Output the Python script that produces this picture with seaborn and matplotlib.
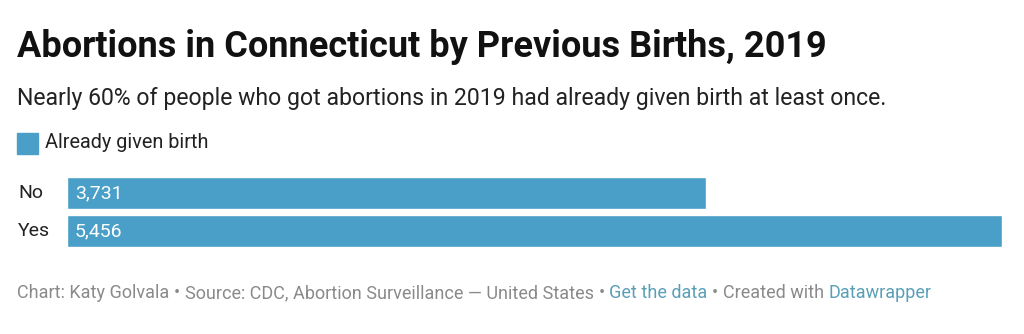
import matplotlib
matplotlib.use("Agg")
import matplotlib.pyplot as plt
import seaborn as sns
import pandas as pd

categories = ["No", "Yes"]
values = [3731, 5456]
series_name = "Already given birth"
title = "Abortions in Connecticut by Previous Births, 2019"
subtitle = "Nearly 60% of people who got abortions in 2019 had already given birth at least once."

BAR = "#4a9fc8"
DARK = "#222222"
GREY = "#8a8a8a"
LINK = "#5a9fb8"

sns.set_theme(style="white")
plt.rcParams["font.family"] = ["Roboto", "DejaVu Sans"]

df = pd.DataFrame({"births": categories, "count": values})

fig = plt.figure(figsize=(10.24, 3.34), dpi=100)
W, H = 1024, 334
ax = fig.add_axes([67 / W, 1 - 247 / H, (1002 - 67) / W, (247 - 177) / H])

sns.barplot(data=df, x="count", y="births", orient="h", color=BAR,
            saturation=1, width=0.83, ax=ax)
ax.set_xlim(0, max(values))
ax.set_ylim(1.415, -0.415)
ax.set_axis_off()

for i, (cat, v) in enumerate(zip(categories, values)):
    ax.annotate(f"{v:,}", xy=(0, i), xycoords=("axes fraction", "data"),
                xytext=(8, 0), textcoords="offset pixels",
                fontsize=14, color="white", va="center", ha="left")
    ax.annotate(cat, xy=(0, i), xycoords=("axes fraction", "data"),
                xytext=(18 - 67, 0), textcoords="offset pixels",
                fontsize=14, color=DARK, va="center", ha="left")

fig.text(17 / W, 1 - 47 / H, title, fontsize=26, fontweight="bold",
         color="#111111", va="center", ha="left")
fig.text(17 / W, 1 - 98 / H, subtitle, fontsize=16.6, color=DARK,
         va="center", ha="left")

fig.patches.append(plt.Rectangle((17 / W, 1 - 154 / H), 21 / W, 21 / H,
                                 transform=fig.transFigure, color=BAR))
fig.text(45 / W, 1 - 143 / H, series_name, fontsize=14.3, color=DARK,
         va="center", ha="left")

# Footer: credit, source and links, laid out left to right on one baseline
footer_parts = [
    ("Chart: Katy Golvala", GREY),
    ("•", GREY),
    ("Source: CDC, Abortion Surveillance — United States", GREY),
    ("•", GREY),
    ("Get the data", LINK),
    ("•", GREY),
    ("Created with", GREY),
    ("Datawrapper", LINK),
]
FS = 13
gap_px = FS * 0.26 * 100 / 72
renderer = fig.canvas.get_renderer()
x = 17.0
for txt, col in footer_parts:
    t = fig.text(x / W, 1 - 298 / H, txt, fontsize=FS, color=col,
                 va="baseline", ha="left")
    x += t.get_window_extent(renderer=renderer).width + gap_px

fig.savefig("out.png", dpi=100, facecolor="white")
